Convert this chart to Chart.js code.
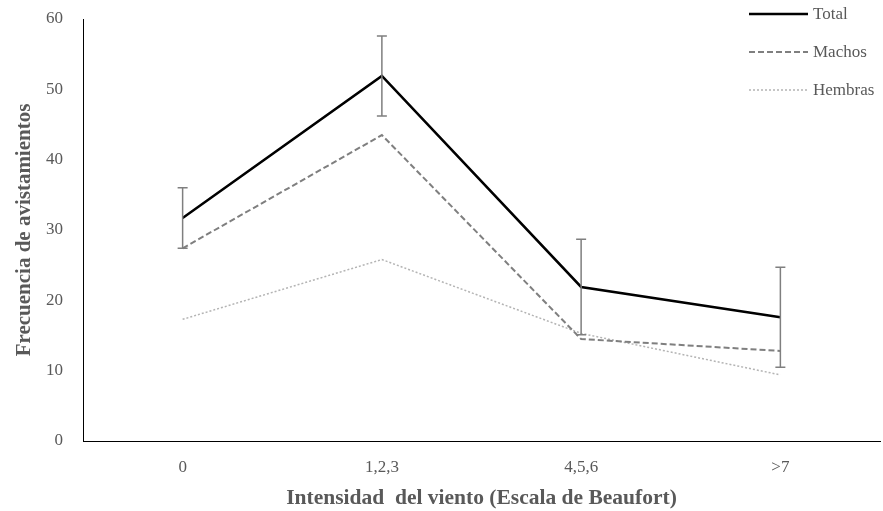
<!DOCTYPE html>
<html>
<head>
<meta charset="utf-8">
<script src="https://cdn.jsdelivr.net/npm/chart.js@4.4.1/dist/chart.umd.min.js"></script>
<style>
  html, body { margin: 0; padding: 0; background: #fff; }
  #wrap { width: 883px; height: 511px; }
</style>
</head>
<body>
<div id="wrap"><canvas id="c" width="883" height="511"></canvas></div>
<script>
// Wind intensity categories (Beaufort scale)
const categories = ['0', '1,2,3', '4,5,6', '>7'];
// Sighting frequencies
const totalValues = [31.7, 51.9, 21.9, 17.6];
const machosValues = [27.4, 43.5, 14.5, 12.8];
const hembrasValues = [17.3, 25.8, 15.3, 9.4];
// Half-width of the error bars on the total series
const totalError = [4.3, 5.7, 6.8, 7.1];
const yTicks = [0, 10, 20, 30, 40, 50, 60];

const serif = "'Liberation Serif', 'Times New Roman', serif";
const textGray = '#595959';

const series = [
  { label: 'Total', data: totalValues, color: '#000000', width: 2.5, dash: [] },
  { label: 'Machos', data: machosValues, color: '#7f7f7f', width: 2, dash: [6, 3] },
  { label: 'Hembras', data: hembrasValues, color: '#b4b4b4', width: 1.5, dash: [2, 2] }
];

// Vertical error bars with caps for the total series
const errorBars = {
  id: 'errorBars',
  afterDatasetsDraw(chart) {
    const { ctx, scales: { x, y } } = chart;
    ctx.save();
    ctx.strokeStyle = '#7f7f7f';
    ctx.lineWidth = 1.5;
    totalValues.forEach((v, i) => {
      const px = x.getPixelForValue(i);
      const top = y.getPixelForValue(v + totalError[i]);
      const bot = y.getPixelForValue(v - totalError[i]);
      ctx.beginPath();
      ctx.moveTo(px, top); ctx.lineTo(px, bot);
      ctx.moveTo(px - 5, top); ctx.lineTo(px + 5, top);
      ctx.moveTo(px - 5, bot); ctx.lineTo(px + 5, bot);
      ctx.stroke();
    });
    ctx.restore();
  }
};

// Legend in the upper right corner: line sample followed by the label
const lineLegend = {
  id: 'lineLegend',
  afterDraw(chart) {
    const { ctx } = chart;
    ctx.save();
    ctx.font = '17px ' + serif;
    ctx.textBaseline = 'middle';
    ctx.textAlign = 'left';
    series.forEach((s, i) => {
      const yy = 14 + i * 38;
      ctx.strokeStyle = s.color;
      ctx.lineWidth = s.width;
      ctx.setLineDash(s.dash);
      ctx.beginPath();
      ctx.moveTo(749, yy); ctx.lineTo(808, yy);
      ctx.stroke();
      ctx.setLineDash([]);
      ctx.fillStyle = textGray;
      ctx.fillText(s.label, 813, yy + 1);
    });
    ctx.restore();
  }
};

new Chart(document.getElementById('c'), {
  type: 'line',
  data: {
    labels: categories,
    datasets: series.map(s => ({
      label: s.label,
      data: s.data,
      borderColor: s.color,
      borderWidth: s.width,
      borderDash: s.dash,
      pointRadius: 0,
      tension: 0,
      fill: false
    }))
  },
  options: {
    responsive: false,
    animation: false,
    layout: { padding: { top: 19, right: 3, left: 0, bottom: 0 } },
    plugins: { legend: { display: false }, tooltip: { enabled: false } },
    scales: {
      x: {
        offset: true,
        grid: { display: false, drawTicks: false },
        border: { display: true, color: '#000', width: 1 },
        ticks: { color: textGray, font: { family: serif, size: 17 }, padding: 16 },
        title: {
          display: true,
          text: 'Intensidad  del viento (Escala de Beaufort)',
          color: textGray,
          font: { family: serif, size: 21.5, weight: 'bold' },
          padding: { top: 4, bottom: 0 }
        },
        afterFit(scale) { scale.height = 70; }
      },
      y: {
        min: 0,
        max: 60,
        afterBuildTicks(scale) { scale.ticks = yTicks.map(v => ({ value: v })); },
        grid: { display: false, drawTicks: true, tickLength: 20 },
        border: { display: true, color: '#000', width: 1 },
        ticks: { color: textGray, font: { family: serif, size: 17 }, padding: 0 },
        title: {
          display: true,
          text: 'Frecuencia de avistamientos',
          color: textGray,
          font: { family: serif, size: 21, weight: 'bold' },
          padding: { top: 12, bottom: 12 }
        },
        afterFit(scale) { scale.width = 83; }
      }
    }
  },
  plugins: [errorBars, lineLegend]
});
</script>
</body>
</html>
